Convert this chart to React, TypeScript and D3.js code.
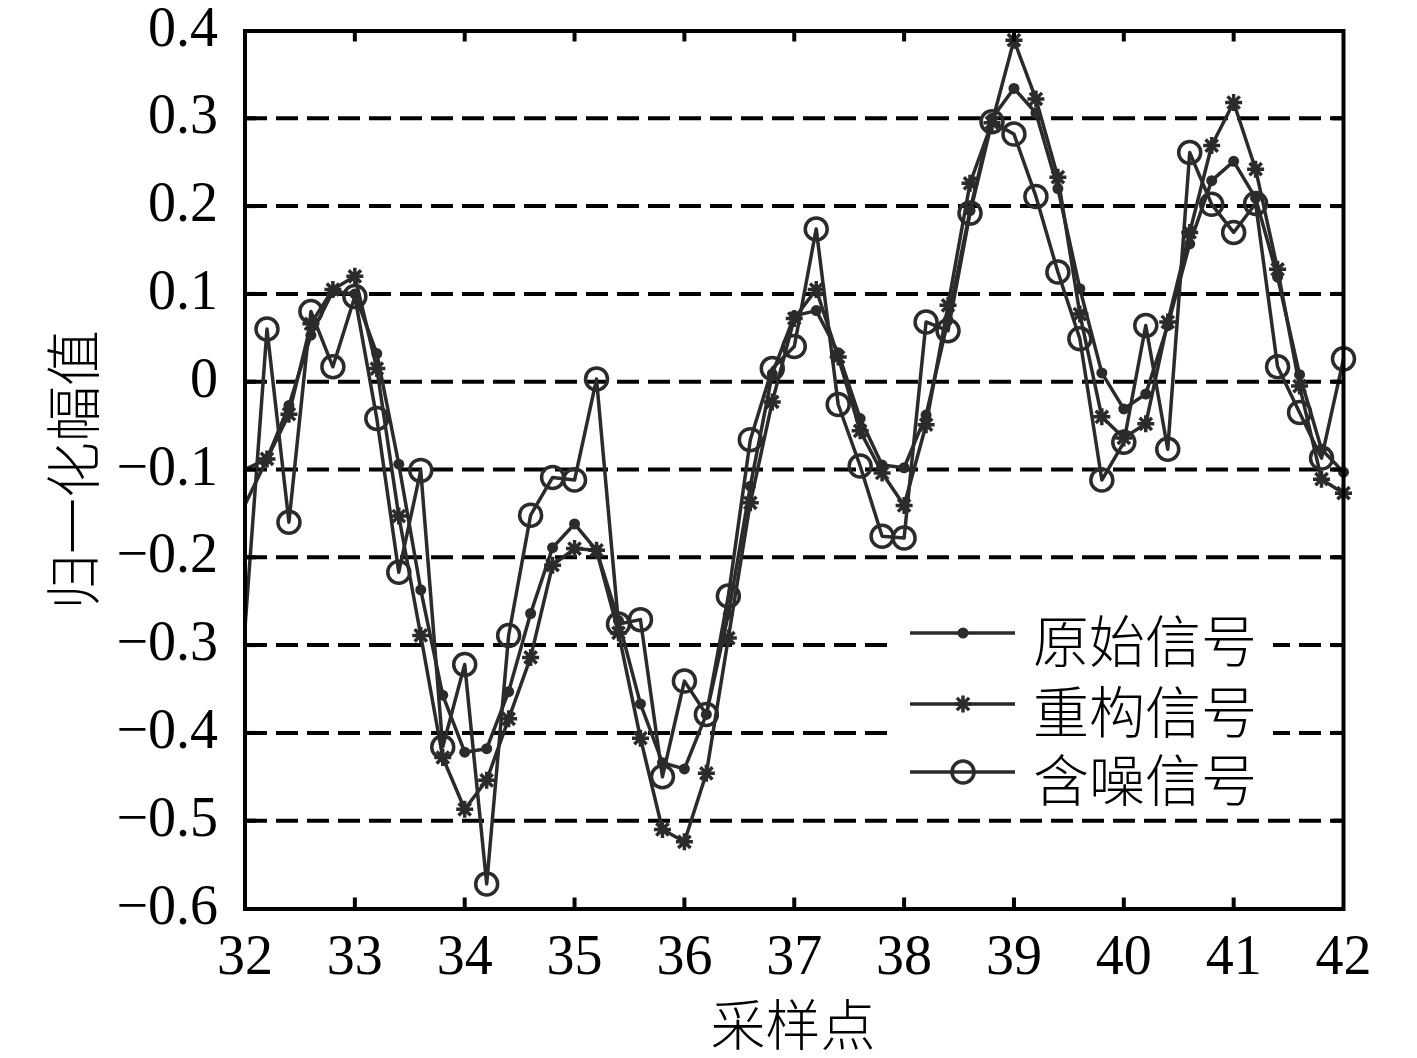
import React from 'react';
import * as d3 from 'd3';

// Sample positions (x axis: 采样点)
const samplePoints = [
  32.0, 32.2, 32.4, 32.6, 32.8, 33.0, 33.2, 33.4, 33.6, 33.8,
  34.0, 34.2, 34.4, 34.6, 34.8, 35.0, 35.2, 35.4, 35.6, 35.8,
  36.0, 36.2, 36.4, 36.6, 36.8, 37.0, 37.2, 37.4, 37.6, 37.8,
  38.0, 38.2, 38.4, 38.6, 38.8, 39.0, 39.2, 39.4, 39.6, 39.8,
  40.0, 40.2, 40.4, 40.6, 40.8, 41.0, 41.2, 41.4, 41.6, 41.8,
  42.0,
];

// 原始信号
const originalSignal = [
  -0.14, -0.088, -0.027, 0.053, 0.103, 0.1, 0.032, -0.094, -0.237, -0.357,
  -0.422, -0.418, -0.353, -0.264, -0.189, -0.162, -0.192, -0.272, -0.367, -0.434,
  -0.441, -0.379, -0.265, -0.119, 0.009, 0.075, 0.081, 0.033, -0.042, -0.095,
  -0.098, -0.038, 0.07, 0.195, 0.3, 0.334, 0.306, 0.22, 0.106, 0.01,
  -0.031, -0.014, 0.064, 0.157, 0.229, 0.251, 0.209, 0.119, 0.008, -0.077,
  -0.103,
];

// 重构信号
const reconstructedSignal = [
  -0.1, -0.088, -0.037, 0.066, 0.105, 0.12, 0.015, -0.153, -0.289, -0.428,
  -0.487, -0.454, -0.384, -0.314, -0.209, -0.19, -0.192, -0.286, -0.406, -0.51,
  -0.524, -0.446, -0.292, -0.138, -0.023, 0.072, 0.105, 0.028, -0.056, -0.104,
  -0.141, -0.049, 0.087, 0.226, 0.295, 0.389, 0.322, 0.233, 0.077, -0.04,
  -0.064, -0.048, 0.068, 0.17, 0.269, 0.318, 0.242, 0.128, -0.005, -0.111,
  -0.127,
];

// 含噪信号
const noisySignal = [
  -0.28, 0.06, -0.16, 0.08, 0.017, 0.097, -0.042, -0.217, -0.101, -0.416,
  -0.322, -0.572, -0.289, -0.152, -0.109, -0.112, 0.003, -0.276, -0.271, -0.45,
  -0.341, -0.379, -0.244, -0.066, 0.015, 0.04, 0.174, -0.026, -0.096, -0.176,
  -0.178, 0.068, 0.058, 0.192, 0.296, 0.282, 0.211, 0.125, 0.049, -0.112,
  -0.069, 0.064, -0.077, 0.261, 0.202, 0.17, 0.203, 0.017, -0.035, -0.087,
  0.026,
];

const xTickValues = [32, 33, 34, 35, 36, 37, 38, 39, 40, 41, 42];
const yTickValues = [0.4, 0.3, 0.2, 0.1, 0, -0.1, -0.2, -0.3, -0.4, -0.5, -0.6];
const yTickLabels = ['0.4', '0.3', '0.2', '0.1', '0', '−0.1', '−0.2', '−0.3', '−0.4', '−0.5', '−0.6'];
const dashedLevels = [0.3, 0.2, 0.1, 0, -0.1, -0.2, -0.3, -0.4, -0.5];
const legendLabels = ['原始信号', '重构信号', '含噪信号'];
const markerKinds = ['dot', 'star', 'circle'];
const xAxisTitle = '采样点';
const yAxisTitle = '归一化幅值';

const W = 1417;
const H = 1058;
const L = 245;
const R = 1343.5;
const T = 30.5;
const B = 908.5;
const INK = '#2b2b2b';
const SERIF = '"Liberation Serif", "Times New Roman", serif';
const CJK = '"Noto Sans CJK SC", "Noto Sans CJK JP", sans-serif';

function Marker({ kind, x, y }: { kind: string; x: number; y: number }) {
  if (kind === 'dot') return <circle cx={x} cy={y} r={5.5} fill={INK} />;
  if (kind === 'circle')
    return <circle cx={x} cy={y} r={11} fill="none" stroke={INK} strokeWidth={3.5} />;
  const s = 8.5;
  const k = s * 0.72;
  return (
    <path
      d={`M${x - s},${y}H${x + s}M${x},${y - s}V${y + s}M${x - k},${y - k}L${x + k},${y + k}M${x - k},${y + k}L${x + k},${y - k}`}
      stroke={INK}
      strokeWidth={3.5}
      fill="none"
    />
  );
}

export default function App() {
  const x = d3.scaleLinear().domain([32, 42]).range([L, R]);
  const y = d3.scaleLinear().domain([-0.6, 0.4]).range([B, T]);
  const series = [originalSignal, reconstructedSignal, noisySignal];
  const line = d3
    .line<[number, number]>()
    .x((d) => x(d[0]))
    .y((d) => y(d[1]));

  const tickLen = 11;
  const legendRows = [633, 704, 772];

  return (
    <svg
      width={W}
      height={H}
      viewBox={`0 0 ${W} ${H}`}
      style={{ position: 'absolute', left: 0, top: 0, background: '#fff' }}
    >
      <defs>
        <clipPath id="plotClip">
          <rect x={L} y={T} width={R - L} height={B - T} />
        </clipPath>
      </defs>
      <rect x={0} y={0} width={W} height={H} fill="#fff" />

      {/* dashed horizontal lines */}
      {dashedLevels.map((v) => (
        <line
          key={v}
          x1={L}
          x2={R}
          y1={y(v)}
          y2={y(v)}
          stroke="#000"
          strokeWidth={4}
          strokeDasharray="22 9"
        />
      ))}

      {/* series lines */}
      <g clipPath="url(#plotClip)">
        {series.map((vals, i) => (
          <path
            key={i}
            d={line(samplePoints.map((sx, j) => [sx, vals[j]] as [number, number])) || ''}
            fill="none"
            stroke={INK}
            strokeWidth={3.5}
            strokeLinejoin="round"
          />
        ))}
      </g>
      {/* markers (MATLAB clips markers whose centre lies on/outside the left limit) */}
      {series.map((vals, i) => (
        <g key={i}>
          {samplePoints.map((sx, j) =>
            sx > 32 ? <Marker key={j} kind={markerKinds[i]} x={x(sx)} y={y(vals[j])} /> : null
          )}
        </g>
      ))}

      {/* axes box */}
      <rect x={L} y={T + 0.5} width={R - L} height={B - T} fill="none" stroke="#000" strokeWidth={4} />
      {xTickValues.slice(1, -1).map((v) => (
        <g key={v}>
          <line x1={x(v)} x2={x(v)} y1={B} y2={B - tickLen} stroke="#000" strokeWidth={4} />
          <line x1={x(v)} x2={x(v)} y1={T} y2={T + tickLen} stroke="#000" strokeWidth={4} />
        </g>
      ))}
      {yTickValues.slice(1, -1).map((v) => (
        <g key={v}>
          <line x1={L} x2={L + tickLen} y1={y(v)} y2={y(v)} stroke="#000" strokeWidth={4} />
          <line x1={R} x2={R - tickLen} y1={y(v)} y2={y(v)} stroke="#000" strokeWidth={4} />
        </g>
      ))}

      {/* tick labels */}
      {xTickValues.map((v) => (
        <text
          key={v}
          x={x(v)}
          y={974}
          textAnchor="middle"
          fontFamily={SERIF}
          fontSize={56}
          fill="#000"
        >
          {String(v)}
        </text>
      ))}
      {yTickValues.map((v, i) => (
        <text
          key={v}
          x={218}
          y={y(v) + 15}
          textAnchor="end"
          fontFamily={SERIF}
          fontSize={56}
          fill="#000"
        >
          {yTickLabels[i]}
        </text>
      ))}

      {/* axis titles */}
      <text
        x={793}
        y={1021}
        textAnchor="middle"
        dominantBaseline="central"
        fontFamily={CJK}
        fontWeight={300}
        fontSize={55}
        fill="#000"
      >
        {xAxisTitle}
      </text>
      <text
        transform={`translate(69,470) rotate(-90)`}
        textAnchor="middle"
        dominantBaseline="central"
        fontFamily={CJK}
        fontWeight={300}
        fontSize={56}
        fill="#000"
      >
        {yAxisTitle}
      </text>

      {/* legend */}
      <rect x={887} y={598} width={386} height={210} fill="#fff" />
      {legendLabels.map((lab, i) => (
        <g key={lab}>
          <line x1={910} x2={1015} y1={legendRows[i]} y2={legendRows[i]} stroke={INK} strokeWidth={3.5} />
          <Marker kind={markerKinds[i]} x={963} y={legendRows[i]} />
          <text
            x={1033}
            y={legendRows[i] + 4}
            dominantBaseline="central"
            fontFamily={CJK}
            fontWeight={300}
            fontSize={56}
            fill="#000"
          >
            {lab}
          </text>
        </g>
      ))}
    </svg>
  );
}
